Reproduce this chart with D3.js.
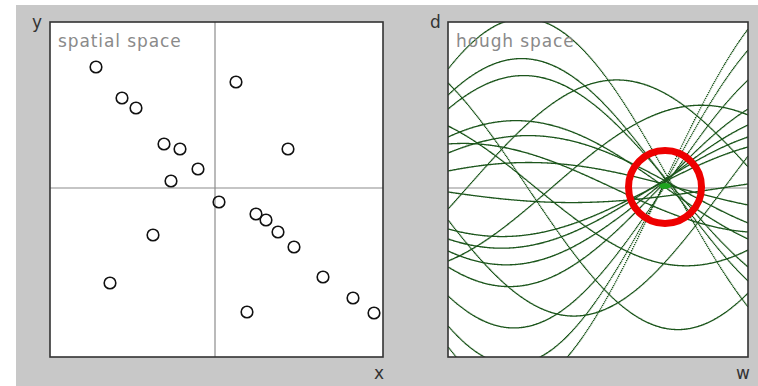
<!DOCTYPE html>
<html>
<head>
<meta charset="utf-8">
<script src="https://cdn.jsdelivr.net/npm/d3@7"></script>
<style>
  html, body { margin: 0; padding: 0; background: #ffffff; }
  svg { display: block; }
</style>
</head>
<body>
<svg id="chart" width="758" height="386"></svg>
<script>
// ---- data (spatial points, y positive upward, origin at the cross-hair) ----
const pointX = [-119, -93, -79, -51, -35, -17, -44, 21, 73, 4, 41, 51, 63, 79, 108, 138, 159, 32, -62, -105];
const pointY = [121, 90, 80, 44, 39, 19, 7, 106, 39, -14, -26, -32, -44, -59, -89, -110, -125, -124, -47, -95];
const panelTitles = ["spatial space", "hough space"];
const axisNames = { spatialX: "x", spatialY: "y", houghX: "w", houghY: "d" };
// angle range of hough space (radians)
const angleRange = [Math.PI, 0];
// highlighted accumulator peak (angle in radians, distance)
const peakAngle = [0.869];
const peakDist = [2];

const svg = d3.select("#chart");

// background
svg.append("rect").attr("x", 16).attr("y", 5).attr("width", 742).attr("height", 381).attr("fill", "#c8c8c8");

// ---- scales ----
const xS = d3.scaleLinear().domain([-165, 168]).range([50, 383]);
const yS = d3.scaleLinear().domain([-169, 166]).range([357, 22]);
const wS = d3.scaleLinear().domain(angleRange).range([448, 748]);
const dS = d3.scaleLinear().domain([-169, 166]).range([357, 22]);

// ---- spatial panel ----
const sp = svg.append("g");
sp.append("rect").attr("x", xS.range()[0]).attr("y", yS.range()[1])
  .attr("width", xS.range()[1] - xS.range()[0]).attr("height", yS.range()[0] - yS.range()[1])
  .attr("fill", "#ffffff");
sp.append("line").attr("x1", xS(0)).attr("x2", xS(0)).attr("y1", yS.range()[1]).attr("y2", yS.range()[0])
  .attr("stroke", "#8c8c8c").attr("stroke-width", 1.2);
sp.append("line").attr("x1", xS.range()[0]).attr("x2", xS.range()[1]).attr("y1", yS(0)).attr("y2", yS(0))
  .attr("stroke", "#8c8c8c").attr("stroke-width", 1.2);
sp.append("text").attr("x", xS.range()[0] + 8).attr("y", 47)
  .attr("font-family", "DejaVu Sans").attr("font-size", 17).attr("letter-spacing", 0.9)
  .attr("fill", "#8a8a8a").text(panelTitles[0]);
sp.selectAll("circle.pt").data(pointX.map((x, i) => ({ x, y: pointY[i] })))
  .join("circle").attr("class", "pt")
  .attr("cx", d => xS(d.x)).attr("cy", d => yS(d.y)).attr("r", 5.8)
  .attr("fill", "none").attr("stroke", "#111").attr("stroke-width", 1.6);
sp.append("rect").attr("x", xS.range()[0]).attr("y", yS.range()[1])
  .attr("width", xS.range()[1] - xS.range()[0]).attr("height", yS.range()[0] - yS.range()[1])
  .attr("fill", "none").attr("stroke", "#333").attr("stroke-width", 1.6);

// ---- hough panel ----
const hp = svg.append("g");
hp.append("clipPath").attr("id", "hclip").append("rect")
  .attr("x", wS.range()[0]).attr("y", dS.range()[1])
  .attr("width", wS.range()[1] - wS.range()[0]).attr("height", dS.range()[0] - dS.range()[1]);
hp.append("rect").attr("x", wS.range()[0]).attr("y", dS.range()[1])
  .attr("width", wS.range()[1] - wS.range()[0]).attr("height", dS.range()[0] - dS.range()[1])
  .attr("fill", "#ffffff");
hp.append("line").attr("x1", wS.range()[0]).attr("x2", wS.range()[1]).attr("y1", dS(0)).attr("y2", dS(0))
  .attr("stroke", "#8c8c8c").attr("stroke-width", 1.2);

// each point becomes a sinusoid d = x cos(w) + y sin(w), plotted column by column
const cols = d3.range(Math.round(wS.range()[0]), Math.round(wS.range()[1]));
const curveG = hp.append("g").attr("clip-path", "url(#hclip)");
pointX.forEach((px, i) => {
  const py = pointY[i];
  const pathStr = cols.map(c => {
    const w = wS.invert(c + 0.5);
    const d = px * Math.cos(w) + py * Math.sin(w);
    const y = dS(d);
    return `M${c - 0.1},${(y - 0.65).toFixed(2)}h1.4v1.3h-1.4z`;
  }).join("");
  curveG.append("path").attr("d", pathStr).attr("fill", "#1c561c");
});

hp.append("text").attr("x", wS.range()[0] + 8).attr("y", 47)
  .attr("font-family", "DejaVu Sans").attr("font-size", 17).attr("letter-spacing", 0.9)
  .attr("fill", "#8a8a8a").text(panelTitles[1]);

// peak highlight
hp.selectAll("ellipse.peak").data(peakAngle).join("ellipse").attr("class", "peak")
  .attr("cx", (a) => wS(a)).attr("cy", (a, i) => dS(peakDist[i]))
  .attr("rx", 6).attr("ry", 3).attr("fill", "#1fa31f");
hp.selectAll("circle.mark").data(peakAngle).join("circle").attr("class", "mark")
  .attr("cx", (a) => wS(a)).attr("cy", (a, i) => dS(peakDist[i]) + 1)
  .attr("r", 36.5).attr("fill", "none").attr("stroke", "#ee0000").attr("stroke-width", 7);

hp.append("rect").attr("x", wS.range()[0]).attr("y", dS.range()[1])
  .attr("width", wS.range()[1] - wS.range()[0]).attr("height", dS.range()[0] - dS.range()[1])
  .attr("fill", "none").attr("stroke", "#333").attr("stroke-width", 1.6);

// axis names
const lab = (x, y, t) => svg.append("text").attr("x", x).attr("y", y)
  .attr("font-family", "DejaVu Sans").attr("font-size", 17).attr("fill", "#333").text(t);
lab(32, 28, axisNames.spatialY);
lab(374, 379, axisNames.spatialX);
lab(430, 28, axisNames.houghY);
lab(736, 379, axisNames.houghX);
</script>
</body>
</html>
